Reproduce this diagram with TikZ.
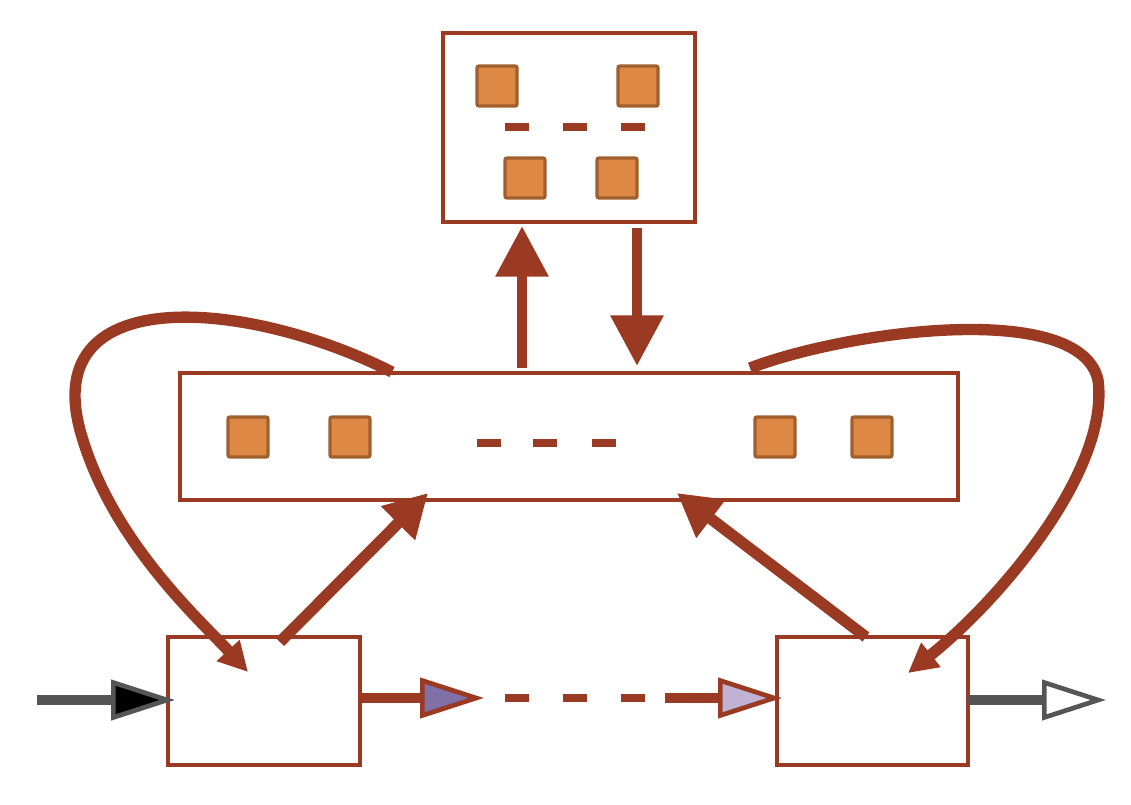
\documentclass[tikz,border=0pt]{standalone}
\usetikzlibrary{arrows.meta}
\definecolor{rust}{HTML}{9A3A22}
\definecolor{sqf}{HTML}{DD8844}
\definecolor{sqd}{HTML}{A0602E}
\definecolor{gry}{HTML}{555555}
\definecolor{pur}{HTML}{8070A8}
\definecolor{lpur}{HTML}{C0B2D4}
\begin{document}
\begin{tikzpicture}[x=0.75pt,y=-0.75pt,
  box/.style={draw=rust,line width=3pt,fill=white},
  sq/.style={draw=sqd,fill=sqf,line width=2.5pt,minimum size=30pt,inner sep=0pt,rounded corners=1.5pt},
  dsh/.style={rust,line width=6.5pt},
  big/.style={rust,line width=8pt,-{Triangle[length=38pt,width=38pt]}},
  mid/.style={rust,line width=8.5pt,-{Triangle[length=32pt,width=34pt]}},
  loop/.style={rust,line width=8.5pt,-{Triangle[length=22pt,width=22pt]}},
  fl/.style={line width=8pt,-{Triangle[length=48pt,width=30pt,fill=#1,line width=3.5pt]}}]
\useasboundingbox (0,0) rectangle (1131,804);
% boxes
\draw[box] (443,33) rectangle (695,222);
\draw[box] (180,373) rectangle (958,500);
\draw[box] (168,637) rectangle (360,765);
\draw[box] (777,637) rectangle (968,765);
% squares
\node[sq] (t1) at (497,86) {};
\node[sq] (t2) at (638,86) {};
\node[sq] (t3) at (525,178) {};
\node[sq] (t4) at (617,178) {};
\foreach \x in {505,563,621} \draw[dsh] (\x,127) -- ++(24,0);
\node[sq] (m1) at (248,437) {};
\node[sq] (m2) at (350,437) {};
\node[sq] (m3) at (775,437) {};
\node[sq] (m4) at (872,437) {};
\foreach \x in {477,533,592} \draw[dsh] (\x,443) -- ++(24,0);
% coordinates
\coordinate (u0) at (522,368); \coordinate (u1) at (522,226);
\coordinate (d0) at (637,228); \coordinate (d1) at (637,366);
\coordinate (a0) at (280,642); \coordinate (a1) at (428,493);
\coordinate (b0) at (866,637); \coordinate (b1) at (677,493);
\coordinate (l0) at (392,372); \coordinate (l1) at (248,672);
\coordinate (r0) at (750,368); \coordinate (r1) at (908,673);
\coordinate (in0) at (37,700); \coordinate (in1) at (175,700);
\coordinate (o0) at (968,700); \coordinate (o1) at (1106,700);
\coordinate (p0) at (360,698); \coordinate (p1) at (484,698);
\coordinate (q0) at (665,698); \coordinate (q1) at (782,698);
% arrows
\draw[big] (u0) -- (u1);
\draw[big] (d0) -- (d1);
\draw[mid] (a0) -- (a1);
\draw[mid] (b0) -- (b1);
\draw[loop] (l0) .. controls (250,300) and (40,280) .. (80,430) .. controls (110,540) and (200,620) .. (l1);
\draw[loop] (r0) .. controls (850,330) and (1080,300) .. (1098,380) .. controls (1110,470) and (1000,600) .. (r1);
\draw[gry,fl=black,draw=gry] (in0) -- (in1);
\draw[gry,fl=white,draw=gry] (o0) -- (o1);
\draw[rust,fl=pur] (p0) -- (p1);
\foreach \x in {505,563,621} \draw[dsh] (\x,698) -- ++(24,0);
\draw[rust,fl=lpur] (q0) -- (q1);
\end{tikzpicture}
\end{document}
